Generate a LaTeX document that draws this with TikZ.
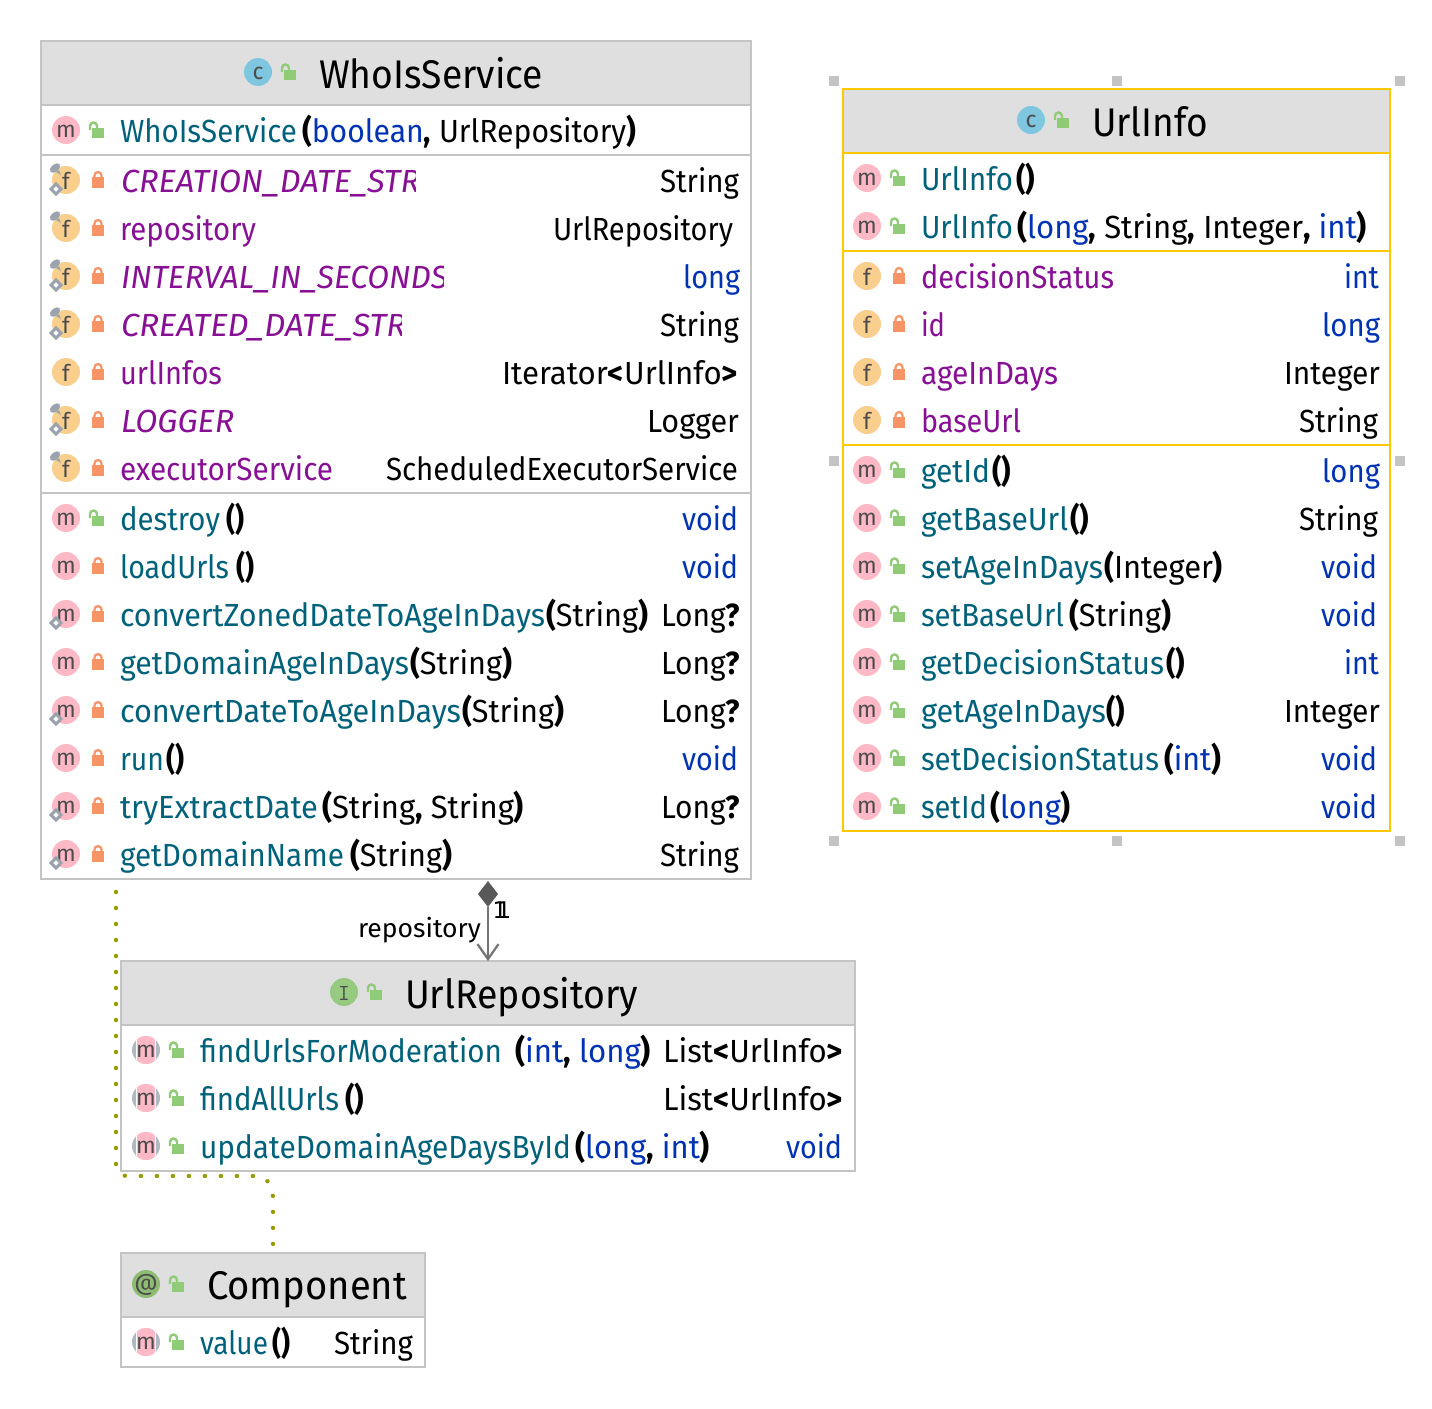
\documentclass[tikz,border=0pt]{standalone}
\usepackage{fontspec}
\usepackage{graphicx}
\setmainfont{Fira Sans}
\newfontfamily\multfont{DejaVu Sans}
\usetikzlibrary{shapes.geometric,arrows.meta}
\definecolor{cName}{HTML}{00627A}
\definecolor{cKw}{HTML}{0033B3}
\definecolor{cField}{HTML}{871094}
\definecolor{cGrayB}{HTML}{C4C4C4}
\definecolor{cHead}{HTML}{DFDFDF}
\definecolor{cSel}{HTML}{FFC800}
\definecolor{cPink}{HTML}{FFB8C6}
\definecolor{cFld}{HTML}{FACF8E}
\definecolor{cCls}{HTML}{7FC7E0}
\definecolor{cIfc}{HTML}{95CA80}
\definecolor{cAnn}{HTML}{8DBC72}
\definecolor{cGlyph}{HTML}{4C4C4C}
\definecolor{cOpen}{HTML}{90CB78}
\definecolor{cShut}{HTML}{F79465}
\definecolor{cMark}{HTML}{9AA3AD}
\definecolor{cRing}{HTML}{B0B9C1}
\definecolor{cDep}{HTML}{999900}
\newcounter{nn}
\tikzset{
  txtbase/.style={anchor=base west,inner sep=0pt,outer sep=0pt,font=\fontsize{32}{36}\selectfont},
  rowname/.style={txtbase,text=cName},
  rowfield/.style={txtbase,text=cField},
  rowplain/.style={txtbase,text=black},
  rowkw/.style={txtbase,text=cKw},
  titletext/.style={txtbase,font=\fontsize{40}{44}\selectfont,text=black},
  glyphdisc/.style={circle,inner sep=0pt,minimum size=28pt},
  glyph/.style={inner sep=0pt,text=cGlyph,font=\fontsize{23}{23}\selectfont},
  umlbox/.style={anchor=north west,draw=cGrayB,line width=1.8pt,fill=white,inner sep=0pt,outer sep=0pt},
  selbox/.style={umlbox,draw=cSel},
  headbox/.style={anchor=north west,fill=cHead,inner sep=0pt,outer sep=0pt},
  sep/.style={draw=cGrayB,line width=2pt},
  selsep/.style={draw=cSel,line width=2pt},
  handle/.style={fill=cGrayB,inner sep=0pt,minimum size=10pt,rectangle},
  dep/.style={draw=cDep,line width=4.4pt,line cap=round,dash pattern=on 0pt off 16pt},
  assoc/.style={draw=black!55,line width=2.4pt,-{Straight Barb[length=15pt,width=21pt,line width=2.2pt]}},
  multtext/.style={anchor=base west,inner sep=0pt,font=\fontsize{23}{26}\multfont},
}
\newcommand{\fitbox}[3]{\resizebox{\dimexpr#2pt-#1pt\relax}{\height}{#3}}
% text pieces: x, xend, baseline, style, text
\newcommand{\piece}[5]{\stepcounter{nn}\node[#4] (n\arabic{nn}) at (#1,#3+0.5) {\fitbox{#1}{#2}{#5}};}
\newcommand{\bp}[1]{\textbf{#1}}
\newcommand{\kw}[1]{\textcolor{cKw}{#1}}
% icons
\newcommand{\cicon}[4]{\stepcounter{nn}\node[glyphdisc,fill=#3] (n\arabic{nn}) at (#1,#2) {};%
  \stepcounter{nn}\node[glyph] (n\arabic{nn}) at (#1,#2+1) {#4};}
\newcommand{\aicon}[2]{%
  \begin{scope}\clip (#1,#2) circle (14);
  \fill[cRing] (#1-14,#2-14) rectangle (#1+14,#2+14);
  \fill[white] (#1-10,#2-14) rectangle (#1+10,#2+14);
  \fill[cPink] (#1-9,#2-14) rectangle (#1+9,#2+14);\end{scope}
  \stepcounter{nn}\node[glyph] (n\arabic{nn}) at (#1,#2+1) {m};}
\newcommand{\lockopen}[2]{%
  \fill[cOpen] (#1-5,#2-2) rectangle (#1+7,#2+8);
  \draw[cOpen,line width=2.4pt] (#1-7,#2) -- (#1-7,#2-4) arc[start angle=180,end angle=360,radius=3.5] -- (#1,#2-2);}
\newcommand{\lockshut}[2]{%
  \fill[cShut] (#1-6,#2-3) rectangle (#1+6,#2+8);
  \draw[cShut,line width=2.2pt] (#1-3.5,#2-3) -- (#1-3.5,#2-4.5) arc[start angle=180,end angle=360,radius=3.5] -- (#1+3.5,#2-3);}
\newcommand{\pinmark}[2]{%
  \fill[cMark,rotate around={40:(#1-11,#2-12)}] (#1-11,#2-12) ellipse (6 and 3.5);
  \fill[cMark] (#1-10,#2-8) -- (#1-5,#2-5) -- (#1-7,#2-10) -- cycle;}
\newcommand{\diamark}[2]{%
  \draw[cMark,line width=3pt,fill=white] (#1-15,#2+9) -- (#1-10,#2+4) -- (#1-5,#2+9) -- (#1-10,#2+14) -- cycle;}
% rows: centre y
\newcommand{\lockAt}[3]{\ifnum#1=0 \lockopen{\the\numexpr#2+31\relax}{#3}\else\lockshut{\the\numexpr#2+32\relax}{#3}\fi}
\newcommand{\micon}[3]{\cicon{#1}{#2}{cPink}{m}\lockAt{#3}{#1}{#2}}
\newcommand{\fieldicon}[2]{\cicon{66}{#1}{cFld}{f}\lockshut{98}{#1}\ifnum#2>0 \pinmark{66}{#1}\fi\ifnum#2>1 \diamark{66}{#1}\fi}
\newcommand{\infofield}[1]{\cicon{867}{#1}{cFld}{f}\lockshut{899}{#1}}
\begin{document}
\begin{tikzpicture}[x=1pt,y=-1pt]
\useasboundingbox (0,0) rectangle (1432,1408);
\fill[white] (0,0) rectangle (1432,1408);

%%% WhoIsService
\node[umlbox,minimum width=710pt,minimum height=838pt] (whois) at (41,41) {};
\node[umlbox,minimum width=304pt,minimum height=114pt] (comp) at (121,1253) {};
\node[headbox,minimum width=708pt,minimum height=63pt] (whoisH) at (42,42) {};
\draw[sep] (whois.north west |- 0,105) -- (whois.north east |- 0,105);
\draw[sep] (whois.north west |- 0,155) -- (whois.north east |- 0,155);
\draw[sep] (whois.north west |- 0,493) -- (whois.north east |- 0,493);
\draw[cGrayB,line width=1.8pt] (whois.north west) rectangle (whois.south east);
\cicon{258}{72}{cCls}{c}\lockopen{289}{72}
\piece{319}{543}{88}{titletext}{WhoIsService}

\micon{66}{130}{0}
\piece{120}{297}{142}{rowname}{WhoIsService}
\piece{302}{636}{142}{rowplain}{\bp{(}\kw{boolean}\bp{,} UrlRepository\bp{)}}

% fields
\fieldicon{180}{2}
\begin{scope}\clip (115,150) rectangle (415,205);\piece{121}{420}{192}{rowfield}{\itshape CREATION\_DATE\_STR}\end{scope}
\piece{660}{739}{192}{rowplain}{String}
\fieldicon{228}{1}
\piece{120}{256}{240}{rowfield}{repository}
\piece{553}{733}{240}{rowplain}{UrlRepository}
\fieldicon{276}{2}
\begin{scope}\clip (115,250) rectangle (443,300);\piece{121}{448}{288}{rowfield}{\itshape INTERVAL\_IN\_SECONDS}\end{scope}
\piece{683}{740}{288}{rowkw}{long}
\fieldicon{324}{2}
\begin{scope}\clip (115,300) rectangle (401,348);\piece{121}{406}{336}{rowfield}{\itshape CREATED\_DATE\_STR}\end{scope}
\piece{660}{739}{336}{rowplain}{String}
\fieldicon{372}{0}
\piece{120}{222}{384}{rowfield}{urlInfos}
\piece{502}{738}{384}{rowplain}{Iterator\bp{<}UrlInfo\bp{>}}
\fieldicon{420}{2}
\piece{121}{234}{432}{rowfield}{\itshape LOGGER}
\piece{647}{739}{432}{rowplain}{Logger}
\fieldicon{468}{1}
\piece{120}{333}{480}{rowfield}{executorService}
\piece{386}{738}{480}{rowplain}{ScheduledExecutorService}

% methods
\micon{66}{518}{0}
\piece{120}{220}{530}{rowname}{destroy}\piece{226}{244}{530}{rowplain}{\bp{()}}\piece{682}{738}{530}{rowkw}{void}
\micon{66}{566}{1}
\piece{120}{229}{578}{rowname}{loadUrls}\piece{236}{254}{578}{rowplain}{\bp{()}}\piece{682}{738}{578}{rowkw}{void}
\micon{66}{614}{1}\diamark{66}{614}
\piece{120}{545}{626}{rowname}{convertZonedDateToAgeInDays}\piece{546}{648}{626}{rowplain}{\bp{(}String\bp{)}}\piece{661}{740}{626}{rowplain}{Long\bp{?}}
\micon{66}{662}{1}
\piece{120}{409}{674}{rowname}{getDomainAgeInDays}\piece{410}{512}{674}{rowplain}{\bp{(}String\bp{)}}\piece{661}{740}{674}{rowplain}{Long\bp{?}}
\micon{66}{710}{1}\diamark{66}{710}
\piece{120}{461}{722}{rowname}{convertDateToAgeInDays}\piece{462}{564}{722}{rowplain}{\bp{(}String\bp{)}}\piece{661}{740}{722}{rowplain}{Long\bp{?}}
\micon{66}{758}{1}
\piece{120}{164}{770}{rowname}{run}\piece{166}{184}{770}{rowplain}{\bp{()}}\piece{682}{738}{770}{rowkw}{void}
\micon{66}{806}{1}\diamark{66}{806}
\piece{120}{318}{818}{rowname}{tryExtractDate}\piece{322}{524}{818}{rowplain}{\bp{(}String\bp{,} String\bp{)}}\piece{661}{740}{818}{rowplain}{Long\bp{?}}
\micon{66}{854}{1}\diamark{66}{854}
\piece{120}{344}{866}{rowname}{getDomainName}\piece{350}{452}{866}{rowplain}{\bp{(}String\bp{)}}\piece{660}{739}{866}{rowplain}{String}

%%% UrlInfo
\node[selbox,minimum width=547pt,minimum height=742pt] (info) at (843,89) {};
\node[headbox,minimum width=545pt,minimum height=63pt] (infoH) at (844,90) {};
\draw[selsep] (info.north west |- 0,153) -- (info.north east |- 0,153);
\draw[selsep] (info.north west |- 0,251) -- (info.north east |- 0,251);
\draw[selsep] (info.north west |- 0,445) -- (info.north east |- 0,445);
\draw[cSel,line width=1.8pt] (info.north west) rectangle (info.south east);
\cicon{1031}{120}{cCls}{c}\lockopen{1062}{120}
\piece{1092}{1208}{136}{titletext}{UrlInfo}
\node[handle] (h1) at (834,81) {};\node[handle] (h2) at (1117,81) {};\node[handle] (h3) at (1400,81) {};
\node[handle] (h4) at (834,461) {};\node[handle] (h5) at (1400,461) {};
\node[handle] (h6) at (834,841) {};\node[handle] (h7) at (1117,841) {};\node[handle] (h8) at (1400,841) {};

\micon{867}{178}{0}
\piece{921}{1013}{190}{rowname}{UrlInfo}\piece{1016}{1035}{190}{rowplain}{\bp{()}}
\micon{867}{226}{0}
\piece{921}{1013}{238}{rowname}{UrlInfo}\piece{1017}{1367}{238}{rowplain}{\bp{(}\kw{long}\bp{,} String\bp{,} Integer\bp{,} \kw{int}\bp{)}}
\infofield{276}
\piece{921}{1114}{288}{rowfield}{decisionStatus}\piece{1344}{1379}{288}{rowkw}{int}
\infofield{324}
\piece{921}{945}{336}{rowfield}{id}\piece{1322}{1380}{336}{rowkw}{long}
\infofield{372}
\piece{921}{1058}{384}{rowfield}{ageInDays}\piece{1284}{1380}{384}{rowplain}{Integer}
\infofield{420}
\piece{921}{1021}{432}{rowfield}{baseUrl}\piece{1299}{1378}{432}{rowplain}{String}
\micon{867}{470}{0}
\piece{921}{990}{482}{rowname}{getId}\piece{992}{1011}{482}{rowplain}{\bp{()}}\piece{1322}{1380}{482}{rowkw}{long}
\micon{867}{518}{0}
\piece{921}{1068}{530}{rowname}{getBaseUrl}\piece{1070}{1089}{530}{rowplain}{\bp{()}}\piece{1299}{1378}{530}{rowplain}{String}
\micon{867}{566}{0}
\piece{921}{1103}{578}{rowname}{setAgeInDays}\piece{1104}{1223}{578}{rowplain}{\bp{(}Integer\bp{)}}\piece{1321}{1377}{578}{rowkw}{void}
\micon{867}{614}{0}
\piece{921}{1064}{626}{rowname}{setBaseUrl}\piece{1069}{1171}{626}{rowplain}{\bp{(}String\bp{)}}\piece{1321}{1377}{626}{rowkw}{void}
\micon{867}{662}{0}
\piece{921}{1164}{674}{rowname}{getDecisionStatus}\piece{1166}{1185}{674}{rowplain}{\bp{()}}\piece{1344}{1379}{674}{rowkw}{int}
\micon{867}{710}{0}
\piece{921}{1106}{722}{rowname}{getAgeInDays}\piece{1106}{1125}{722}{rowplain}{\bp{()}}\piece{1284}{1380}{722}{rowplain}{Integer}
\micon{867}{758}{0}
\piece{921}{1159}{770}{rowname}{setDecisionStatus}\piece{1164}{1221}{770}{rowplain}{\bp{(}\kw{int}\bp{)}}\piece{1321}{1377}{770}{rowkw}{void}
\micon{867}{806}{0}
\piece{921}{987}{818}{rowname}{setId}\piece{990}{1071}{818}{rowplain}{\bp{(}\kw{long}\bp{)}}\piece{1321}{1377}{818}{rowkw}{void}

%%% UrlRepository
\node[umlbox,minimum width=734pt,minimum height=210pt] (repo) at (121,961) {};
\node[headbox,minimum width=732pt,minimum height=63pt] (repoH) at (122,962) {};
\draw[sep] (repo.north west |- 0,1025) -- (repo.north east |- 0,1025);
\draw[cGrayB,line width=1.8pt] (repo.north west) rectangle (repo.south east);
\cicon{344}{992}{cIfc}{\ttfamily I}\lockopen{375}{992}
\piece{405}{638}{1008}{titletext}{UrlRepository}
\aicon{146}{1050}\lockopen{177}{1050}
\piece{200}{502}{1062}{rowname}{findUrlsForModeration}\piece{515}{651}{1062}{rowplain}{\bp{(}\kw{int}\bp{,} \kw{long}\bp{)}}\piece{663}{843}{1062}{rowplain}{List\bp{<}UrlInfo\bp{>}}
\aicon{146}{1098}\lockopen{177}{1098}
\piece{200}{339}{1110}{rowname}{findAllUrls}\piece{345}{364}{1110}{rowplain}{\bp{()}}\piece{663}{843}{1110}{rowplain}{List\bp{<}UrlInfo\bp{>}}
\aicon{146}{1146}\lockopen{177}{1146}
\piece{200}{571}{1158}{rowname}{updateDomainAgeDaysById}\piece{575}{710}{1158}{rowplain}{\bp{(}\kw{long}\bp{,} \kw{int}\bp{)}}\piece{786}{842}{1158}{rowkw}{void}

%%% dotted dependency
\draw[dep] ([xshift=75pt,yshift=-13pt]whois.south west) -- (116,1164) .. controls (116,1171) and (120,1176) .. (128,1176) -- (256,1176) .. controls (268,1177) and (273,1186) .. (273,1199) -- ([xshift=152pt,yshift=6pt]comp.north west);

%%% Component
\node[headbox,minimum width=302pt,minimum height=63pt] (compH) at (122,1254) {};
\draw[sep] (comp.north west |- 0,1317) -- (comp.north east |- 0,1317);
\draw[cGrayB,line width=1.8pt] (comp.north west) rectangle (comp.south east);
\cicon{146}{1284}{cAnn}{@}\lockopen{177}{1284}
\piece{207}{407}{1299}{titletext}{Component}
\aicon{146}{1342}\lockopen{177}{1342}
\piece{200}{268}{1354}{rowname}{value}\piece{272}{290}{1354}{rowplain}{\bp{()}}\piece{334}{413}{1354}{rowplain}{String}

%%% association
\node[diamond,fill=black!65,inner sep=0pt,outer sep=0pt,minimum width=20pt,minimum height=26pt] (compo) at (488,894) {};
\draw[assoc] (compo.south) -- ([xshift=367pt]repo.north west);
\node[txtbase,font=\fontsize{26}{30}\selectfont] (roleName) at (358,937) {\fitbox{358}{481}{repository}};
\node[multtext] (mulA) at (492.5,918) {1};
\node[multtext] (mulB) at (496.5,918) {1};
\end{tikzpicture}
\end{document}
